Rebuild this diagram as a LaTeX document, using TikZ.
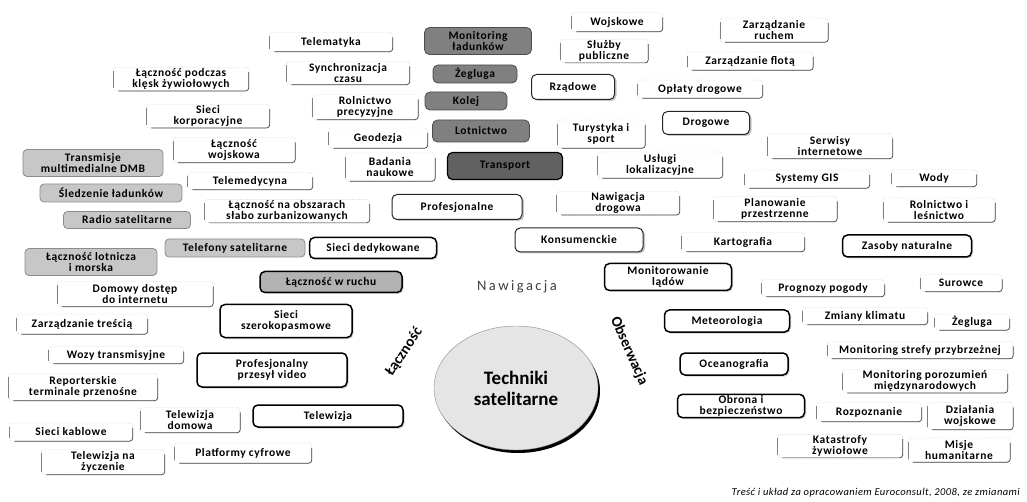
\documentclass[tikz,border=0pt]{standalone}
\usepackage{fontspec}
\setmainfont{Carlito}
\newfontfamily\boxfont{Carlito}[LetterSpace=5]
\newfontfamily\footfont{Carlito}[LetterSpace=4]
\usetikzlibrary{shapes.geometric,shadows}
\tikzset{
  txt/.style={align=center, font=\boxfont\bfseries\fontsize{11.5}{11.5}\selectfont, inner sep=1pt},
  lt/.style={txt, draw=black!28, densely dotted, rounded corners=3pt,
    append after command={
      ([xshift=5pt]\tikzlastnode.south west) edge[solid, draw=black!75, line width=0.7pt, rounded corners=3pt, to path={-| (\tikztotarget)}] ([yshift=-5pt]\tikzlastnode.north east)
      ([yshift=3pt]\tikzlastnode.south west) edge[solid, draw=black!50, line width=0.6pt] ([yshift=-4pt]\tikzlastnode.north west)}},
  cat/.style={txt, draw=black, line width=1.5pt, rounded corners=5pt, fill=white,
    drop shadow={opacity=0.35, shadow xshift=1.5pt, shadow yshift=-1.5pt}},
  mid/.style={txt, draw=black!85, line width=1pt, rounded corners=5pt, fill=white,
    drop shadow={opacity=0.45, shadow xshift=2pt, shadow yshift=-1.5pt}},
  dark/.style={txt, draw=black!70, line width=0.8pt, rounded corners=5pt, fill=black!50},
  grayb/.style={txt, draw=black!45, line width=0.8pt, rounded corners=4pt, fill=black!22},
  big/.style={font=\bfseries\fontsize{15}{16}\selectfont, inner sep=0pt},
}
\begin{document}
\begin{tikzpicture}[x=1pt,y=-1pt]
\useasboundingbox[fill=white] (0,0) rectangle (1027,502);

% ---- centre ----
\node[ellipse, draw=black!45, fill=black!10, minimum width=164, minimum height=124,
  drop shadow={fill=black, opacity=1, shadow xshift=2pt, shadow yshift=-3pt},
  align=center, font=\bfseries\fontsize{19}{21}\selectfont] (tech) at (516,388) {Techniki\\satelitarne};
\node[font=\fontsize{14.5}{15}\selectfont, text=black!75] (naw) at (517,287) {N\,a\,w\,i\,g\,a\,c\,j\,a};
\node[big, rotate=56] (lacz) at (404,352) {Łączność};
\node[big, rotate=-66] (obs) at (629,351) {Obserwacja};

% ---- light boxes (left/top) ----
\node[lt, minimum width=123, minimum height=19] (telem) at (331,42) {Telematyka};
\node[lt, minimum width=123, minimum height=23] (sync) at (348,73) {Synchronizacja\\czasu};
\node[lt, minimum width=106, minimum height=25] (rolp) at (365,107) {Rolnictwo\\precyzyjne};
\node[lt, minimum width=99, minimum height=20] (geod) at (378,138) {Geodezja};
\node[lt, minimum width=90, minimum height=28] (bad) at (390,167) {Badania\\naukowe};
\node[lt, minimum width=135, minimum height=22] (klesk) at (181,79) {Łączność podczas\\klęsk żywiołowych};
\node[lt, minimum width=123, minimum height=22] (korp) at (208,116) {Sieci\\korporacyjne};
\node[lt, minimum width=122, minimum height=25] (wojsk) at (234,150) {Łączność\\wojskowa};
\node[lt, minimum width=125, minimum height=17] (telemed) at (250,181) {Telemedycyna};
\node[lt, minimum width=165, minimum height=23] (obsz) at (287,211) {Łączność na obszarach\\słabo zurbanizowanych};
\node[lt, minimum width=156, minimum height=25] (dom) at (135,294) {Domowy dostęp\\do internetu};
\node[lt, minimum width=131, minimum height=20] (tresc) at (82,324) {Zarządzanie treścią};
\node[lt, minimum width=135, minimum height=17] (wozy) at (116,355) {Wozy transmisyjne};
\node[lt, minimum width=149, minimum height=27] (rep) at (83,387) {Reporterskie\\terminale przenośne};
\node[lt, minimum width=100, minimum height=25] (twdom) at (190,420) {Telewizja\\domowa};
\node[lt, minimum width=123, minimum height=18] (kabl) at (71,432) {Sieci kablowe};
\node[lt, minimum width=123, minimum height=25] (tvz) at (103,462) {Telewizja na\\życzenie};
\node[lt, minimum width=137, minimum height=20] (platf) at (243,453) {Platformy cyfrowe};

% ---- light boxes (right) ----
\node[lt, minimum width=91, minimum height=19] (wojskowe) at (617,22) {Wojskowe};
\node[lt, minimum width=108, minimum height=24] (ruch) at (774,30) {Zarządzanie\\ruchem};
\node[lt, minimum width=88, minimum height=23] (sluzby) at (604,51) {Służby\\publiczne};
\node[lt, minimum width=126, minimum height=18] (flota) at (750,61) {Zarządzanie flotą};
\node[lt, minimum width=125, minimum height=18] (oplaty) at (700,89) {Opłaty drogowe};
\node[lt, minimum width=88, minimum height=28] (tur) at (601,134) {Turystyka i\\sport};
\node[lt, minimum width=125, minimum height=25] (serw) at (830,146) {Serwisy\\internetowe};
\node[lt, minimum width=125, minimum height=26] (uslugi) at (660,165) {Usługi\\lokalizacyjne};
\node[lt, minimum width=125, minimum height=18] (gis) at (807,179) {Systemy GIS};
\node[lt, minimum width=85, minimum height=17] (wody) at (934,178) {Wody};
\node[lt, minimum width=123, minimum height=23] (nawdr) at (618,203) {Nawigacja\\drogowa};
\node[lt, minimum width=124, minimum height=25] (plan) at (775,209) {Planowanie\\przestrzenne};
\node[lt, minimum width=112, minimum height=24] (rollas) at (939,210) {Rolnictwo i\\leśnictwo};
\node[lt, minimum width=123, minimum height=19] (kart) at (743,242) {Kartografia};
\node[lt, minimum width=123, minimum height=17] (progn) at (823,288) {Prognozy pogody};
\node[lt, minimum width=82, minimum height=17] (sur) at (961,283) {Surowce};
\node[lt, minimum width=125, minimum height=17] (zmiany) at (865,316) {Zmiany klimatu};
\node[lt, minimum width=75, minimum height=16] (zegl2) at (972,322) {Żegluga};
\node[lt, minimum width=186, minimum height=17] (strefa) at (920,350) {Monitoring strefy przybrzeżnej};
\node[lt, minimum width=165, minimum height=22] (poroz) at (925,381) {Monitoring porozumień\\międzynarodowych};
\node[lt, minimum width=105, minimum height=19] (rozp) at (869,412) {Rozpoznanie};
\node[lt, minimum width=86, minimum height=27] (dzial) at (970,416) {Działania\\wojskowe};
\node[lt, minimum width=125, minimum height=22] (katas) at (840,446) {Katastrofy\\żywiołowe};
\node[lt, minimum width=102, minimum height=24] (misje) at (959,450) {Misje\\humanitarne};

% ---- category boxes ----
\node[cat, minimum width=127, minimum height=21] (dedyk) at (373,248) {Sieci dedykowane};
\node[cat, fill=black!30, minimum width=142, minimum height=21] (ruchu) at (331,282) {Łączność w ruchu};
\node[cat, minimum width=132, minimum height=33] (szer) at (286,321) {Sieci\\szerokopasmowe};
\node[cat, minimum width=150, minimum height=34] (video) at (272,370) {Profesjonalny\\przesył video};
\node[cat, minimum width=150, minimum height=22] (tv) at (328,416) {Telewizja};
\node[cat, minimum width=127, minimum height=27] (monl) at (668,277) {Monitorowanie\\lądów};
\node[cat, minimum width=125, minimum height=22] (meteo) at (727,321) {Meteorologia};
\node[cat, minimum width=108, minimum height=22] (ocean) at (734,364) {Oceanografia};
\node[cat, minimum width=127, minimum height=23] (obrona) at (741,406) {Obrona i\\bezpieczeństwo};
\node[cat, minimum width=129, minimum height=22] (zasoby) at (907,246) {Zasoby naturalne};

\node[mid, minimum width=130, minimum height=25] (prof) at (457,207) {Profesjonalne};
\node[mid, minimum width=128, minimum height=24] (kons) at (579,240) {Konsumenckie};
\node[mid, minimum width=83, minimum height=25] (rzad) at (573,87) {Rządowe};
\node[mid, minimum width=87, minimum height=23] (drog) at (706,123) {Drogowe};

% ---- transport group (dark) ----
\node[dark, minimum width=107, minimum height=27] (monld) at (478,41) {Monitoring\\ładunków};
\node[dark, minimum width=84, minimum height=18] (zegl) at (475,74) {Żegluga};
\node[dark, minimum width=82, minimum height=18] (kolej) at (466,101) {Kolej};
\node[dark, minimum width=97, minimum height=22] (lotn) at (481,131) {Lotnictwo};
\node[dark, fill=black!62, draw=black, line width=1.2pt, minimum width=115, minimum height=27] (transp) at (505,166) {Transport};

% ---- grey group (left) ----
\node[grayb, minimum width=140, minimum height=27] (dmb) at (93,163) {Transmisje\\multimedialne DMB};
\node[grayb, minimum width=142, minimum height=18] (sledz) at (111,193) {Śledzenie ładunków};
\node[grayb, minimum width=127, minimum height=17] (radio) at (127,220) {Radio satelitarne};
\node[grayb, minimum width=132, minimum height=27] (lotmor) at (91,262) {Łączność lotnicza\\i morska};
\node[grayb, minimum width=140, minimum height=18] (telef) at (235,248) {Telefony satelitarne};

% ---- footer ----
\node[anchor=east, font=\footfont\itshape\fontsize{10.5}{11}\selectfont, inner sep=0pt] (src) at (1020,493) {Treść i układ za opracowaniem Euroconsult, 2008, ze zmianami};
\end{tikzpicture}
\end{document}
